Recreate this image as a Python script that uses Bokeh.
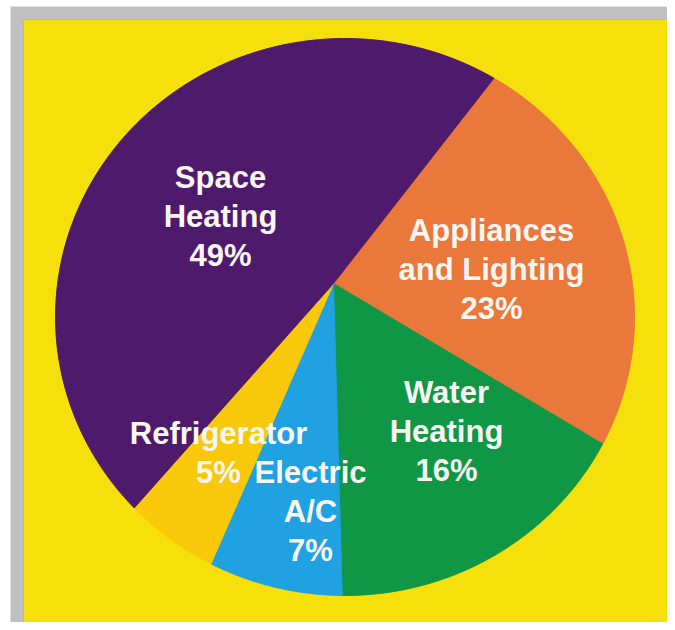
import numpy as np
from bokeh.plotting import figure
from bokeh.models import Range1d, ColumnDataSource
from bokeh.core.properties import value
from bokeh.embed import file_html
from bokeh.resources import INLINE

# ---- data (clockwise from the top-right boundary) ----
categories = ["Appliances\nand Lighting", "Water\nHeating", "Electric\nA/C", "Refrigerator", "Space\nHeating"]
percent = [23, 16, 7, 5, 49]
slice_colors = ["#EA783A", "#0F9746", "#1FA1E2", "#FAC80B", "#4E1B6C"]

# ---- layout (image pixel coordinates, y grows downward) ----
APEX_X, APEX_Y = 333.0, 283.0
CX, CY, RX, RY = 344.5, 316.5, 289.5, 278.5
START_DEG = 52.0
label_anchor_x = [491, 446, 310, 218, 220]
label_first_baseline = [230, 392, 472, 433, 177]
LINE_STEP = 39
FONT = "Liberation Sans"


def hit(theta_deg):
    t = np.radians(theta_deg)
    dx, dy = np.cos(t), -np.sin(t)
    px, py = APEX_X - CX, APEX_Y - CY
    a = (dx / RX) ** 2 + (dy / RY) ** 2
    b = 2 * (px * dx / RX ** 2 + py * dy / RY ** 2)
    c = (px / RX) ** 2 + (py / RY) ** 2 - 1
    s = (-b + np.sqrt(b * b - 4 * a * c)) / (2 * a)
    return APEX_X + s * dx, APEX_Y + s * dy


xs, ys = [], []
ang = START_DEG
for pct in percent:
    end = ang - pct * 3.6
    th = np.linspace(ang, end, 120)
    px, py = hit(th)
    xs.append([APEX_X] + list(px))
    ys.append([APEX_Y] + list(py))
    ang = end

p = figure(width=667, height=622, output_backend="svg", toolbar_location=None,
           x_range=Range1d(10, 667), y_range=Range1d(622, 6),
           x_axis_location=None, y_axis_location=None,
           min_border_left=10, min_border_right=0, min_border_top=6, min_border_bottom=0)
p.border_fill_color = "white"
p.background_fill_color = "#C0C0C0"
p.outline_line_color = None
p.grid.visible = False

# yellow panel
p.quad(left=[23], right=[668], top=[19], bottom=[624], fill_color="#F6E00C",
       line_color="#E2C400", line_width=1)

src = ColumnDataSource(dict(xs=xs, ys=ys, color=slice_colors))
p.patches("xs", "ys", source=src, fill_color="color", line_color="color", line_width=1)

tx, ty, tt = [], [], []
for cat, pct, ax, ay in zip(categories, percent, label_anchor_x, label_first_baseline):
    lines = cat.split("\n") + [f"{pct}%"]
    for i, ln in enumerate(lines):
        tx.append(ax)
        ty.append(ay + i * LINE_STEP)
        tt.append(ln)

tsrc = ColumnDataSource(dict(x=tx, y=ty, text=tt))
p.text("x", "y", text="text", source=tsrc, text_font=value(FONT), text_font_style="bold",
       text_font_size="31px", text_color="#FAF6F4", text_align="center",
       text_baseline="alphabetic")

open("out.html", "w").write(file_html(p, INLINE))
